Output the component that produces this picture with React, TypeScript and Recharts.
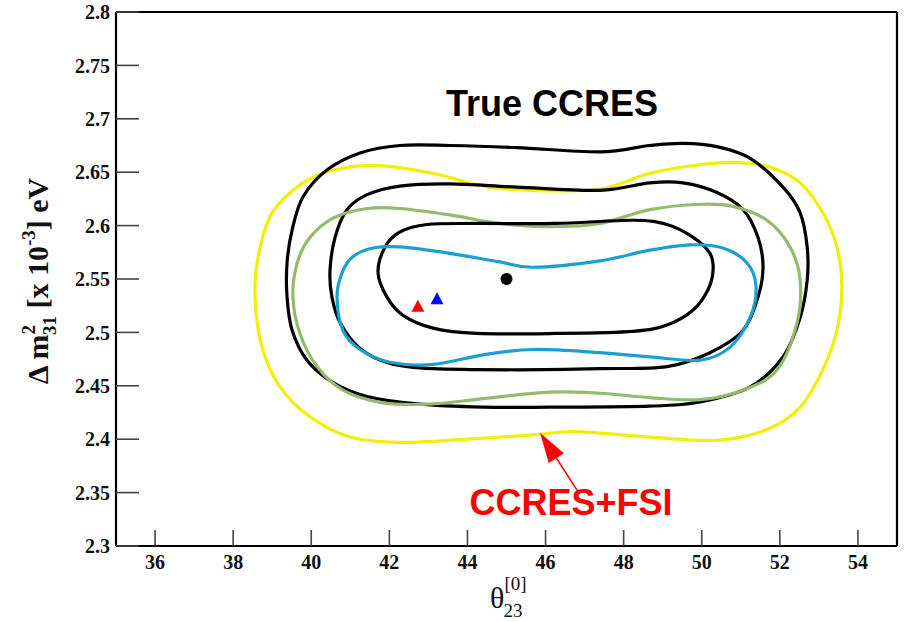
import React from "react";
import {
  ComposedChart, Line, Scatter, XAxis, YAxis, ReferenceLine, Customized,
} from "recharts";

// axis ticks
const X_MAJOR = [36, 38, 40, 42, 44, 46, 48, 50, 52, 54];
const X_MINOR = [35.5, 36.5, 37, 37.5, 38.5, 39, 39.5, 40.5, 41, 41.5, 42.5, 43, 43.5, 44.5, 45, 45.5,
  46.5, 47, 47.5, 48.5, 49, 49.5, 50.5, 51, 51.5, 52.5, 53, 53.5, 54.5];
const Y_MAJOR = [2.3, 2.35, 2.4, 2.45, 2.5, 2.55, 2.6, 2.65, 2.7, 2.75, 2.8];
const Y_MINOR = [2.31, 2.32, 2.33, 2.34, 2.36, 2.37, 2.38, 2.39, 2.41, 2.42, 2.43, 2.44, 2.46, 2.47, 2.48, 2.49,
  2.51, 2.52, 2.53, 2.54, 2.56, 2.57, 2.58, 2.59, 2.61, 2.62, 2.63, 2.64, 2.66, 2.67, 2.68, 2.69,
  2.71, 2.72, 2.73, 2.74, 2.76, 2.77, 2.78, 2.79];

// contours: [theta23, dm2]
const blackOuter = [
  [39.38, 2.565], [39.51, 2.596], [39.79, 2.627], [40.4, 2.652], [41.25, 2.668], [42.27, 2.675], [43.55, 2.675],
  [45.27, 2.673], [47.39, 2.669], [48.67, 2.675], [49.52, 2.677], [50.39, 2.674], [51.24, 2.663], [52.08, 2.636],
  [52.52, 2.612], [52.7, 2.58], [52.7, 2.549], [52.52, 2.514], [52.08, 2.477], [51.24, 2.449], [49.96, 2.435],
  [48.67, 2.431], [46.11, 2.43], [44.4, 2.43], [42.71, 2.433], [41.43, 2.44], [40.56, 2.453], [39.89, 2.474],
  [39.51, 2.502], [39.38, 2.533],
];
const blackMiddle = [
  [40.48, 2.558], [40.61, 2.589], [40.92, 2.615], [41.43, 2.629], [42.27, 2.637], [43.55, 2.639], [45.27, 2.636],
  [47.39, 2.633], [48.67, 2.64], [49.52, 2.64], [50.39, 2.631], [51.06, 2.615], [51.44, 2.589], [51.57, 2.561],
  [51.44, 2.533], [51.06, 2.502], [50.21, 2.481], [49.11, 2.468], [47.39, 2.466], [45.27, 2.465], [43.12, 2.466],
  [42.02, 2.471], [41.25, 2.485], [40.74, 2.509], [40.53, 2.533],
];
const blackInner = [
  [41.71, 2.556], [41.89, 2.58], [42.27, 2.594], [42.96, 2.601], [44.24, 2.602], [46.24, 2.602], [48.24, 2.605],
  [49.11, 2.601], [49.78, 2.589], [50.21, 2.574], [50.29, 2.558], [50.16, 2.54], [49.78, 2.521], [49.11, 2.507],
  [48.24, 2.501], [46.24, 2.499], [44.24, 2.499], [43.12, 2.504], [42.35, 2.516], [41.94, 2.533],
];
const yellow = [
  [38.56, 2.533], [38.64, 2.571], [38.94, 2.608], [39.46, 2.631], [40.15, 2.647], [41.0, 2.655], [41.84, 2.656],
  [43.12, 2.649], [44.4, 2.637], [45.68, 2.633], [47.39, 2.634], [48.67, 2.649], [49.96, 2.657], [50.98, 2.659],
  [51.82, 2.654], [52.52, 2.64], [53.1, 2.612], [53.46, 2.58], [53.59, 2.543], [53.46, 2.502], [53.1, 2.465],
  [52.52, 2.43], [51.67, 2.409], [50.39, 2.399], [48.67, 2.402], [46.75, 2.407], [45.68, 2.404], [43.99, 2.4],
  [42.27, 2.397], [41.0, 2.402], [39.97, 2.421], [39.2, 2.449], [38.74, 2.486],
];
const green = [
  [39.53, 2.533], [39.64, 2.565], [39.97, 2.589], [40.56, 2.607], [41.43, 2.616], [42.27, 2.616], [43.55, 2.61],
  [44.83, 2.602], [46.11, 2.599], [47.39, 2.602], [48.67, 2.615], [49.96, 2.62], [50.8, 2.618], [51.67, 2.605],
  [52.26, 2.58], [52.52, 2.549], [52.44, 2.509], [51.93, 2.465], [51.06, 2.446], [49.96, 2.437], [48.67, 2.439],
  [47.39, 2.443], [46.11, 2.444], [44.4, 2.438], [43.12, 2.433], [41.84, 2.434], [40.81, 2.446], [40.15, 2.468],
  [39.71, 2.499],
];
const blue = [
  [40.66, 2.533], [40.79, 2.556], [41.07, 2.571], [41.58, 2.579], [42.27, 2.58], [43.55, 2.574], [44.83, 2.566],
  [45.68, 2.561], [47.39, 2.567], [48.67, 2.577], [49.7, 2.582], [50.54, 2.579], [51.16, 2.565], [51.39, 2.543],
  [51.24, 2.514], [50.72, 2.486], [49.96, 2.474], [48.67, 2.477], [47.39, 2.481], [45.68, 2.484], [44.4, 2.479],
  [43.12, 2.47], [42.02, 2.472], [41.25, 2.484], [40.81, 2.502],
];

// best fit points
const trueBest = [{ x: 45.0, y: 2.55 }];
const fitBlue = [{ x: 43.22, y: 2.531 }];
const fitRed = [{ x: 42.73, y: 2.524 }];

// arrow pointing at the yellow contour
const arrowSeg = [{ x: 46.81, y: 2.352 }, { x: 45.86, y: 2.406 }];

const toXY = (pts: number[][]) => pts.map(([x, y]) => ({ x, y }));

// smooth closed curve through the points (catmull-rom)
const closedSmooth = (context: any) => {
  let pts: number[][] = [];
  return {
    areaStart() {},
    areaEnd() {},
    lineStart() { pts = []; },
    point(x: number, y: number) { pts.push([x, y]); },
    lineEnd() {
      const n = pts.length;
      if (!n) return;
      context.moveTo(pts[0][0], pts[0][1]);
      for (let i = 0; i < n; i++) {
        const p0 = pts[(i - 1 + n) % n];
        const p1 = pts[i];
        const p2 = pts[(i + 1) % n];
        const p3 = pts[(i + 2) % n];
        context.bezierCurveTo(
          p1[0] + (p2[0] - p0[0]) / 6, p1[1] + (p2[1] - p0[1]) / 6,
          p2[0] - (p3[0] - p1[0]) / 6, p2[1] - (p3[1] - p1[1]) / 6,
          p2[0], p2[1],
        );
      }
      context.closePath();
    },
  };
};

const CONTOURS = [
  { name: "yellow", pts: yellow, color: "#f2ef00" },
  { name: "outer", pts: blackOuter, color: "#000000" },
  { name: "middle", pts: blackMiddle, color: "#000000" },
  { name: "green", pts: green, color: "#95ba6c" },
  { name: "inner", pts: blackInner, color: "#000000" },
  { name: "blue", pts: blue, color: "#1a9fd4" },
];

const SERIF = "'Liberation Serif', 'Times New Roman', serif";
const SANS = "'Liberation Sans', Arial, sans-serif";

const tickFont = { fontFamily: SERIF, fontWeight: 700, fontSize: 20, fill: "#111" };
const tickLine = { stroke: "#444", strokeWidth: 1.6 };
const frame = { stroke: "#000", strokeWidth: 2.2 };

const Triangle = (color: string) => (props: any) => {
  const { cx, cy } = props;
  return <polygon points={`${cx},${cy - 7} ${cx - 6.5},${cy + 5} ${cx + 6.5},${cy + 5}`} fill={color} />;
};

const Arrow = (props: any) => {
  const { x1, y1, x2, y2 } = props;
  const dx = x2 - x1, dy = y2 - y1;
  const len = Math.sqrt(dx * dx + dy * dy);
  const ux = dx / len, uy = dy / len;
  const hl = 30, hw = 9;
  const bx = x2 - ux * hl, by = y2 - uy * hl;
  return (
    <g>
      <line x1={x1} y1={y1} x2={bx} y2={by} stroke="#ff0000" strokeWidth={1.5} />
      <polygon
        points={`${x2},${y2} ${bx - uy * hw},${by + ux * hw} ${bx + uy * hw},${by - ux * hw}`}
        fill="#ff0000"
      />
    </g>
  );
};

const Texts = () => (
  <g>
    <text x={552} y={116} textAnchor="middle" fontFamily={SANS} fontWeight={700} fontSize={36} fill="#000">
      True CCRES
    </text>
    <text x={571} y={515} textAnchor="middle" fontFamily={SANS} fontWeight={700} fontSize={36} fill="#ff0000">
      CCRES+FSI
    </text>
    <g transform="rotate(-90 48 281)">
      <text x={48} y={281} textAnchor="middle" fontFamily={SERIF} fontWeight={700} fontSize={30} fill="#111">
        <tspan>Δ m</tspan>
        <tspan fontSize={19} dy={-13}>2</tspan>
        <tspan fontSize={19} dx={-10} dy={21}>31</tspan>
        <tspan dy={-8}> [x 10</tspan>
        <tspan fontSize={19} dy={-13}>-3</tspan>
        <tspan dy={13}>] eV</tspan>
      </text>
    </g>
    <text x={490} y={608} fontFamily={SERIF} fontSize={30} fill="#111">
      <tspan>θ</tspan>
      <tspan fontSize={19} dy={-18}>[0]</tspan>
      <tspan fontSize={19} dx={-23} dy={27}>23</tspan>
    </text>
  </g>
);

export default function App() {
  return (
    <div style={{ position: "absolute", left: 0, top: 0, width: 904, height: 622, background: "#fff" }}>
      <ComposedChart width={904} height={622} margin={{ top: 10, right: 5, bottom: 74, left: 114 }}>
        {/* bottom axis */}
        <XAxis
          xAxisId="x" dataKey="x" type="number" domain={[35, 55]} allowDataOverflow ticks={X_MAJOR}
          interval={0} height={1} tickSize={-16} tickMargin={25} tick={tickFont} tickLine={tickLine}
          axisLine={frame}
        />
        <XAxis
          xAxisId="xm" dataKey="x" type="number" domain={[35, 55]} allowDataOverflow ticks={X_MINOR}
          interval={0} height={1} tickSize={-8} tick={false} tickLine={tickLine} axisLine={false}
        />
        {/* top axis */}
        <XAxis
          xAxisId="xt" orientation="top" dataKey="x" type="number" domain={[35, 55]} allowDataOverflow ticks={X_MAJOR}
          interval={0} height={1} tickSize={-16} tick={false} tickLine={tickLine} axisLine={frame}
        />
        <XAxis
          xAxisId="xtm" orientation="top" dataKey="x" type="number" domain={[35, 55]} allowDataOverflow ticks={X_MINOR}
          interval={0} height={1} tickSize={-8} tick={false} tickLine={tickLine} axisLine={false}
        />
        {/* left axis */}
        <YAxis
          yAxisId="y" dataKey="y" type="number" domain={[2.3, 2.8]} allowDataOverflow ticks={Y_MAJOR}
          interval={0} width={1} tickSize={-23} tickMargin={29} tick={tickFont} tickLine={tickLine}
          axisLine={frame}
        />
        <YAxis
          yAxisId="ym" dataKey="y" type="number" domain={[2.3, 2.8]} allowDataOverflow ticks={Y_MINOR}
          interval={0} width={1} tickSize={-12} tick={false} tickLine={tickLine} axisLine={false}
        />
        {/* right axis */}
        <YAxis
          yAxisId="yr" orientation="right" dataKey="y" type="number" domain={[2.3, 2.8]} allowDataOverflow ticks={Y_MAJOR}
          interval={0} width={1} tickSize={-23} tick={false} tickLine={tickLine} axisLine={frame}
        />
        <YAxis
          yAxisId="yrm" orientation="right" dataKey="y" type="number" domain={[2.3, 2.8]} allowDataOverflow ticks={Y_MINOR}
          interval={0} width={1} tickSize={-12} tick={false} tickLine={tickLine} axisLine={false}
        />

        {CONTOURS.map((c) => (
          <Line
            key={c.name}
            xAxisId="x"
            yAxisId="y"
            data={toXY(c.pts)}
            dataKey="y"
            type={closedSmooth as any}
            stroke={c.color}
            strokeWidth={3.2}
            fill="none"
            dot={false}
            activeDot={false}
            isAnimationActive={false}
          />
        ))}

        <Scatter xAxisId="x" yAxisId="y" data={trueBest} fill="#000" shape={(p: any) => <circle cx={p.cx} cy={p.cy} r={6} fill="#000" />} isAnimationActive={false} />
        <Scatter xAxisId="x" yAxisId="y" data={fitBlue} fill="#0000ff" shape={Triangle("#0000ff")} isAnimationActive={false} />
        <Scatter xAxisId="x" yAxisId="y" data={fitRed} fill="#ff0000" shape={Triangle("#ff0000")} isAnimationActive={false} />

        <ReferenceLine
          xAxisId="x" yAxisId="y"
          segment={arrowSeg}
          ifOverflow="visible"
          shape={Arrow}
        />

        <Customized component={<Texts />} />
      </ComposedChart>
    </div>
  );
}
